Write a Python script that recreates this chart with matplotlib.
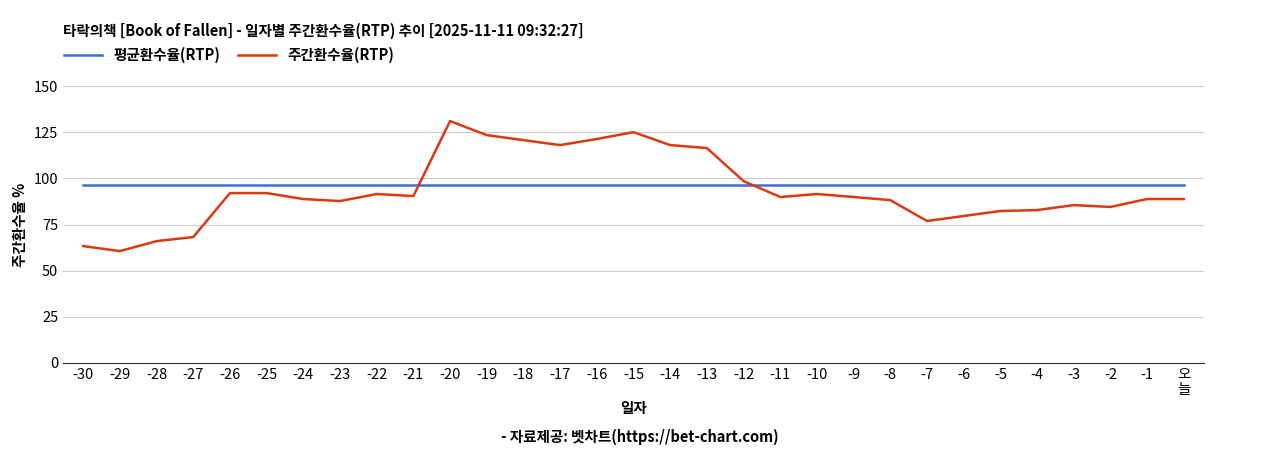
import matplotlib
matplotlib.use("Agg")
import matplotlib.pyplot as plt

plt.rcParams['font.family'] = ['Noto Sans CJK KR', 'DejaVu Sans']

labels = [str(i) for i in range(-30, 0)] + ["오\n늘"]
weekly = [63.3, 60.6, 66, 68.2, 92, 92, 88.8, 87.7, 91.5, 90.4, 131, 123.4, 120.7, 118,
          121.3, 125, 118, 116.4, 98.5, 89.9, 91.5, 89.9, 88.2, 76.9, 79.6, 82.3, 82.8,
          85.5, 84.5, 88.8, 88.8]
avg = [96.4] * len(labels)

fig = plt.figure(figsize=(12.68, 4.5), dpi=100)
ax = fig.add_axes([63/1268, 1-363/450, (1204-63)/1268, (363-86)/450])
x = list(range(len(labels)))
ax.plot(x, avg, color='#3c6fd8', lw=1.8, label='평균환수율(RTP)')
ax.plot(x, weekly, color='#dc3912', lw=1.8, label='주간환수율(RTP)')
ax.set_xlim(-0.55, len(labels) - 0.45)
ax.set_ylim(0, 150)
ax.set_yticks(range(0, 151, 25))
ax.set_xticks(x)
ax.set_xticklabels(labels, fontsize=10.5, linespacing=1.1)
ax.tick_params(axis='y', labelsize=10.5, length=0)
ax.tick_params(axis='x', length=0)
ax.grid(axis='y', color='#cccccc', lw=0.8)
ax.set_axisbelow(True)
for s in ['top', 'right', 'left']:
    ax.spines[s].set_visible(False)
ax.spines['bottom'].set_color('#333333')
ax.set_ylabel('주간환수율 %', fontsize=10.5, fontweight='bold')
ax.set_xlabel('일자', fontsize=10.5, fontweight='bold', labelpad=2)
fig.text(63/1268, 1-31/450, '타락의책 [Book of Fallen] - 일자별 주간환수율(RTP) 추이 [2025-11-11 09:32:27]',
         fontsize=10.5, fontweight='bold', va='center')
fig.legend(loc='center left', bbox_to_anchor=(58/1268, 1-55/450), ncol=2, frameon=False,
           prop={'size': 10.5, 'weight': 'bold'}, handlelength=2.6, columnspacing=1.2, borderaxespad=0)
fig.text(640/1268, 1-437/450, '- 자료제공: 벳차트(https://bet-chart.com)', fontsize=10.5,
         fontweight='bold', ha='center', va='center')
fig.savefig('out.png', dpi=100)
